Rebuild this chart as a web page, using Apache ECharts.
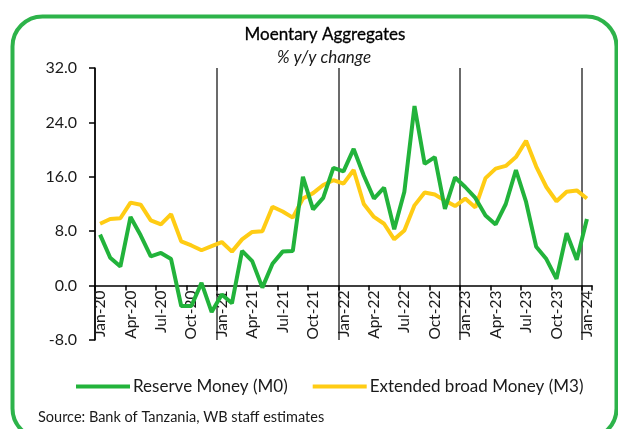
<!DOCTYPE html>
<html>
<head>
<meta charset="utf-8">
<script src="https://cdn.jsdelivr.net/npm/echarts@6/dist/echarts.min.js"></script>
<style>
html,body{margin:0;padding:0;background:#fff;}
#chart{width:618px;height:429px;}
</style>
</head>
<body>
<div id="chart"></div>
<script>
const categories = ['Jan-20','Feb-20','Mar-20','Apr-20','May-20','Jun-20','Jul-20','Aug-20','Sep-20','Oct-20','Nov-20','Dec-20',
'Jan-21','Feb-21','Mar-21','Apr-21','May-21','Jun-21','Jul-21','Aug-21','Sep-21','Oct-21','Nov-21','Dec-21',
'Jan-22','Feb-22','Mar-22','Apr-22','May-22','Jun-22','Jul-22','Aug-22','Sep-22','Oct-22','Nov-22','Dec-22',
'Jan-23','Feb-23','Mar-23','Apr-23','May-23','Jun-23','Jul-23','Aug-23','Sep-23','Oct-23','Nov-23','Dec-23',
'Jan-24'];
const reserveMoneyM0 = [7.5,4.1,2.8,10.1,7.4,4.3,4.8,3.9,-3.0,-3.0,0.4,-3.9,
-1.3,-2.6,5.1,3.6,-0.3,3.2,5.0,5.1,16.0,11.2,12.9,17.3,
16.8,20.1,16.2,12.8,14.4,8.3,13.8,26.4,17.9,18.9,11.3,15.9,
14.5,12.9,10.3,9.0,12.0,17.0,12.3,5.7,3.9,1.0,7.7,3.8,
9.8];
const broadMoneyM3 = [9.1,9.8,9.9,12.2,11.9,9.6,9.0,10.5,6.5,5.9,5.2,5.8,
6.4,5.0,6.8,7.9,8.0,11.6,10.9,10.0,12.8,13.6,14.8,15.5,
15.0,17.0,12.0,10.1,9.1,6.8,8.1,11.8,13.7,13.4,12.5,11.7,
12.8,11.5,15.8,17.2,17.6,18.9,21.3,17.5,14.5,12.4,13.8,14.0,
12.8];
const yTicks = {min:-8, max:32, interval:8};
const seriesNames = ['Reserve Money (M0)','Extended broad Money (M3)'];
const titleText = 'Moentary Aggregates';
const subtitleText = '% y/y change';
const sourceText = 'Source: Bank of Tanzania, WB staff estimates';

const FONT = 'Lato, "Open Sans", sans-serif';
const GREEN = '#22B33B';
const YELLOW = '#FFCC14';
const TXT = '#1a1a1a';

const GRID = {left:95, right:26, top:68, bottom:89};
const plotH = 429 - GRID.top - GRID.bottom;
// move the category axis up to the value 0
const zeroOffset = -plotH * (0 - yTicks.min) / (yTicks.max - yTicks.min);

const chart = echarts.init(document.getElementById('chart'), null, {renderer:'canvas'});
chart.setOption({
  animation:false,
  backgroundColor:'#fff',
  textStyle:{fontFamily:FONT},
  title:[
    {text:titleText, left:320, textAlign:'center', top:21, textStyle:{fontFamily:FONT, fontSize:17, fontWeight:'normal', color:'#000', textBorderColor:'#000', textBorderWidth:0.3}},
    {text:subtitleText, left:319, textAlign:'center', top:44, textStyle:{fontFamily:FONT, fontSize:17, fontStyle:'italic', fontWeight:'normal', color:TXT}},
    {text:sourceText, left:33, top:405, textStyle:{fontFamily:FONT, fontSize:14.5, fontWeight:'normal', color:TXT}}
  ],
  graphic:[{
    type:'rect', left:10, top:14, silent:true,
    shape:{width:604, height:422, r:30},
    style:{fill:'none', stroke:'#2DB34A', lineWidth:4}
  }],
  legend:{
    top:373, left:71,
    itemWidth:54, itemHeight:4, itemGap:25,
    icon:'rect',
    textStyle:{fontFamily:FONT, fontSize:17, color:TXT, padding:[0,0,0,-2]},
    data:seriesNames
  },
  grid:{left:GRID.left, right:GRID.right, top:GRID.top, bottom:GRID.bottom, containLabel:false},
  xAxis:{
    type:'category',
    data:categories,
    boundaryGap:true,
    offset:zeroOffset,
    axisLine:{onZero:false, lineStyle:{color:'#000', width:1.5}},
    axisTick:{show:true, interval:2, length:5, lineStyle:{color:'#000', width:1.5}},
    axisLabel:{interval:2, rotate:90, fontFamily:FONT, fontSize:15.5, color:TXT, margin:5},
    splitLine:{show:true, showMaxLine:false, interval:function(i){return i%12===0;}, lineStyle:{color:'#3a3a3a', width:1.5}}
  },
  yAxis:{
    type:'value',
    min:yTicks.min, max:yTicks.max, interval:yTicks.interval,
    axisLine:{show:true, lineStyle:{color:'#000', width:1.5}},
    axisTick:{show:true, length:6, lineStyle:{color:'#000', width:1.5}},
    axisLabel:{fontFamily:FONT, fontSize:16, color:TXT, margin:18, formatter:function(v){return v.toFixed(1);}},
    splitLine:{show:false}
  },
  series:[
    {name:seriesNames[0], type:'line', data:reserveMoneyM0, showSymbol:false, symbol:'none',
     lineStyle:{color:GREEN, width:4}, itemStyle:{color:GREEN}, z:3},
    {name:seriesNames[1], type:'line', data:broadMoneyM3, showSymbol:false, symbol:'none',
     lineStyle:{color:YELLOW, width:4}, itemStyle:{color:YELLOW}, z:2}
  ]
});
</script>
</body>
</html>
